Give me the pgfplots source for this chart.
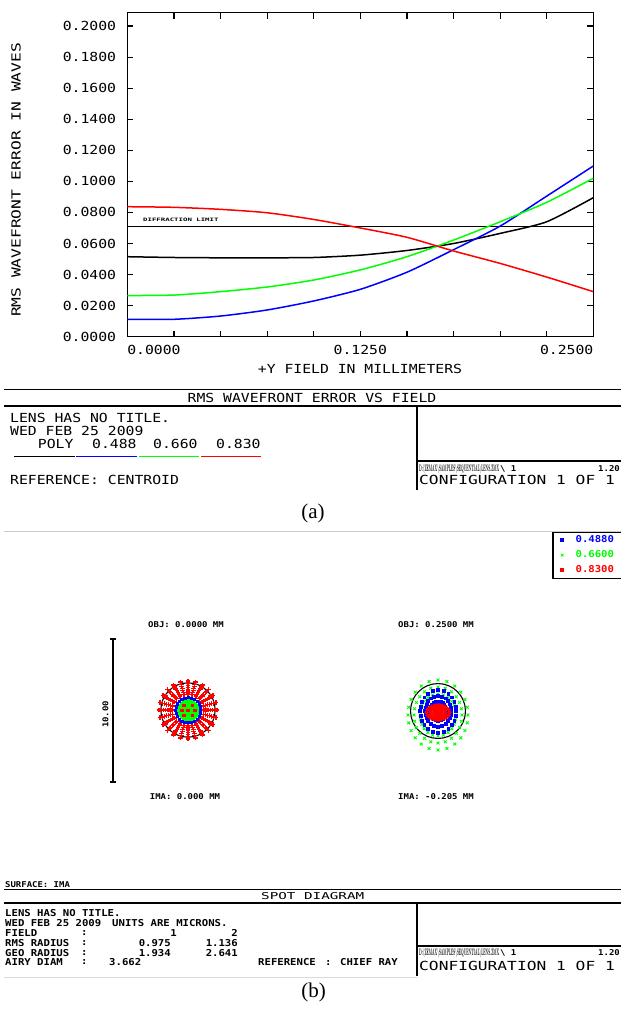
\documentclass[border=0pt]{standalone}
\usepackage{pgfplots}
\pgfplotsset{compat=1.18}
\usepackage{pgfplotstable}
\usepackage{graphicx}
\usepackage{fontspec}
\newfontfamily\zA[FakeStretch=1.18]{DejaVu Sans Mono}
\newfontfamily\zW[FakeStretch=1.3]{DejaVu Sans Mono}
\newfontfamily\zB[FakeStretch=1.12]{DejaVu Sans Mono}
\newfontfamily\zS[FakeStretch=1.5]{DejaVu Sans Mono}
\newfontfamily\zT[FakeStretch=1.6]{DejaVu Sans Mono}
\newfontfamily\capf{Liberation Serif}
\newcommand\fa{\zA\fontsize{12.5}{13}\selectfont}
\newcommand\fw{\zW\fontsize{12.5}{13}\selectfont}
\newcommand\fb{\zB\bfseries\fontsize{9.5}{10}\selectfont}
\newcommand\fo{\zB\bfseries\fontsize{8}{9}\selectfont}
\newcommand\fs{\zS\fontsize{9.5}{10}\selectfont}
\newcommand\ft{\zT\bfseries\fontsize{4.6}{5}\selectfont}
\newcommand\fc{\capf\fontsize{21}{23}\selectfont}

% RMS wavefront error vs field
\pgfplotstableread{
x     poly   b      g      r
0.000 0.0515 0.0112 0.0265 0.0837
0.025 0.0510 0.0112 0.0268 0.0833
0.050 0.0508 0.0133 0.0290 0.0820
0.075 0.0508 0.0172 0.0320 0.0798
0.100 0.0510 0.0230 0.0365 0.0755
0.125 0.0525 0.0305 0.0430 0.0700
0.150 0.0555 0.0415 0.0515 0.0640
0.175 0.0600 0.0560 0.0622 0.0552
0.200 0.0665 0.0712 0.0740 0.0472
0.225 0.0740 0.0905 0.0865 0.0384
0.250 0.0895 0.1099 0.1020 0.0290
}\rms

% spot diagram, field 1 (angle in degrees, radius in microns)
\pgfplotstableread{
a   p1   p2   p3   p4   p5   p6   p7   pb   pg1  pg2  pg3
0   2.02 1.85 1.70 1.55 1.40 1.26 1.12 0.88 0.62 0.42 0.22
15  2.02 1.85 1.70 1.55 1.40 1.26 1.12 0.88 0.62 0.42 0.22
30  2.02 1.85 1.70 1.55 1.40 1.26 1.12 0.88 0.62 0.42 0.22
45  2.02 1.85 1.70 1.55 1.40 1.26 1.12 0.88 0.62 0.42 0.22
60  2.02 1.85 1.70 1.55 1.40 1.26 1.12 0.88 0.62 0.42 0.22
75  2.02 1.85 1.70 1.55 1.40 1.26 1.12 0.88 0.62 0.42 0.22
90  2.02 1.85 1.70 1.55 1.40 1.26 1.12 0.88 0.62 0.42 0.22
105 2.02 1.85 1.70 1.55 1.40 1.26 1.12 0.88 0.62 0.42 0.22
120 2.02 1.85 1.70 1.55 1.40 1.26 1.12 0.88 0.62 0.42 0.22
135 2.02 1.85 1.70 1.55 1.40 1.26 1.12 0.88 0.62 0.42 0.22
150 2.02 1.85 1.70 1.55 1.40 1.26 1.12 0.88 0.62 0.42 0.22
165 2.02 1.85 1.70 1.55 1.40 1.26 1.12 0.88 0.62 0.42 0.22
180 2.02 1.85 1.70 1.55 1.40 1.26 1.12 0.88 0.62 0.42 0.22
195 2.02 1.85 1.70 1.55 1.40 1.26 1.12 0.88 0.62 0.42 0.22
210 2.02 1.85 1.70 1.55 1.40 1.26 1.12 0.88 0.62 0.42 0.22
225 2.02 1.85 1.70 1.55 1.40 1.26 1.12 0.88 0.62 0.42 0.22
240 2.02 1.85 1.70 1.55 1.40 1.26 1.12 0.88 0.62 0.42 0.22
255 2.02 1.85 1.70 1.55 1.40 1.26 1.12 0.88 0.62 0.42 0.22
270 2.02 1.85 1.70 1.55 1.40 1.26 1.12 0.88 0.62 0.42 0.22
285 2.02 1.85 1.70 1.55 1.40 1.26 1.12 0.88 0.62 0.42 0.22
300 2.02 1.85 1.70 1.55 1.40 1.26 1.12 0.88 0.62 0.42 0.22
315 2.02 1.85 1.70 1.55 1.40 1.26 1.12 0.88 0.62 0.42 0.22
330 2.02 1.85 1.70 1.55 1.40 1.26 1.12 0.88 0.62 0.42 0.22
345 2.02 1.85 1.70 1.55 1.40 1.26 1.12 0.88 0.62 0.42 0.22
}\spotA

% spot diagram, field 2 (angle in degrees, radius in microns)
\pgfplotstableread{
a   g1    g2    g3    b1    b2    b3    r1    r2    r3
0   2.100 1.680 1.260 1.260 0.907 0.567 0.800 0.528 0.264
15  2.119 1.695 1.271 1.273 0.916 0.573 0.761 0.502 0.251
30  2.173 1.738 1.304 1.309 0.943 0.589 0.679 0.448 0.224
45  2.255 1.804 1.353 1.364 0.982 0.614 0.600 0.396 0.198
60  2.346 1.877 1.408 1.427 1.028 0.642 0.543 0.358 0.179
75  2.421 1.937 1.453 1.480 1.065 0.666 0.511 0.337 0.168
90  2.450 1.960 1.470 1.500 1.080 0.675 0.500 0.330 0.165
105 2.421 1.937 1.453 1.480 1.065 0.666 0.511 0.337 0.168
120 2.346 1.877 1.408 1.427 1.028 0.642 0.543 0.358 0.179
135 2.255 1.804 1.353 1.364 0.982 0.614 0.600 0.396 0.198
150 2.173 1.738 1.304 1.309 0.943 0.589 0.679 0.448 0.224
165 2.119 1.695 1.271 1.273 0.916 0.573 0.761 0.502 0.251
180 2.100 1.680 1.260 1.260 0.907 0.567 0.800 0.528 0.264
195 2.119 1.695 1.271 1.273 0.916 0.573 0.761 0.502 0.251
210 2.173 1.738 1.304 1.309 0.943 0.589 0.679 0.448 0.224
225 2.255 1.804 1.353 1.364 0.982 0.614 0.600 0.396 0.198
240 2.346 1.877 1.408 1.427 1.028 0.642 0.543 0.358 0.179
255 2.421 1.937 1.453 1.480 1.065 0.666 0.511 0.337 0.168
270 2.450 1.960 1.470 1.500 1.080 0.675 0.500 0.330 0.165
285 2.421 1.937 1.453 1.480 1.065 0.666 0.511 0.337 0.168
300 2.346 1.877 1.408 1.427 1.028 0.642 0.543 0.358 0.179
315 2.255 1.804 1.353 1.364 0.982 0.614 0.600 0.396 0.198
330 2.173 1.738 1.304 1.309 0.943 0.589 0.679 0.448 0.224
345 2.119 1.695 1.271 1.273 0.916 0.573 0.761 0.502 0.251
}\spotB

\begin{document}
\begin{tikzpicture}
\useasboundingbox (0,0) rectangle (621pt,-1012pt);

% ---------- (a) RMS wavefront error vs field ----------
\begin{axis}[
  at={(127.3pt,-336.7pt)}, anchor=south west,
  scale only axis, width=466pt, height=324pt,
  xmin=0, xmax=0.25, ymin=0, ymax=0.2086,
  axis line style={line width=1.4pt},
  tick align=inside, major tick length=6pt,
  tick style={line width=1.2pt, black},
  xtick pos=both, ytick pos=both, ticklabel pos=left,
  xtick={0,0.025,0.05,0.075,0.1,0.125,0.15,0.175,0.2,0.225,0.25},
  xticklabels={\makebox[0pt][l]{0.0000},,,,,0.1250,,,,,\makebox[0pt][r]{0.2500}},
  ytick={0,0.02,0.04,0.06,0.08,0.1,0.12,0.14,0.16,0.18,0.2},
  yticklabels={0.0000,0.0200,0.0400,0.0600,0.0800,0.1000,0.1200,0.1400,0.1600,0.1800,0.2000},
  xticklabel style={font=\fa, anchor=north, inner sep=0pt, yshift=-8pt},
  yticklabel style={font=\fa, anchor=east, inner sep=0pt, xshift=-11pt},
]
\addplot[black, line width=1.3pt] coordinates {(0,0.0708) (0.25,0.0708)};
\addplot[black, line width=1.5pt, smooth, tension=0.4] table[x=x, y=poly] {\rms};
\addplot[blue, line width=1.5pt, smooth, tension=0.4] table[x=x, y=b] {\rms};
\addplot[green, line width=1.5pt, smooth, tension=0.4] table[x=x, y=g] {\rms};
\addplot[red, line width=1.5pt, smooth, tension=0.4] table[x=x, y=r] {\rms};
\end{axis}

% ---------- (b) spot diagram, field 1 ----------
\begin{axis}[
  at={(130.8pt,-767.2pt)}, anchor=south west,
  scale only axis, width=114.4pt, height=114.4pt,
  xmin=-4, xmax=4, ymin=-4, ymax=4, hide axis, clip=false]
\addplot[data cs=polar, only marks, mark=+, mark size=2.4pt, red, line width=1.3pt] table[x=a, y=p1] {\spotA};
\addplot[data cs=polar, only marks, mark=+, mark size=2.4pt, red, line width=1.3pt] table[x=a, y=p2] {\spotA};
\addplot[data cs=polar, only marks, mark=+, mark size=2.4pt, red, line width=1.3pt] table[x=a, y=p3] {\spotA};
\addplot[data cs=polar, only marks, mark=+, mark size=2.4pt, red, line width=1.3pt] table[x=a, y=p4] {\spotA};
\addplot[data cs=polar, only marks, mark=+, mark size=2.4pt, red, line width=1.3pt] table[x=a, y=p5] {\spotA};
\addplot[data cs=polar, only marks, mark=+, mark size=2.4pt, red, line width=1.3pt] table[x=a, y=p6] {\spotA};
\addplot[data cs=polar, only marks, mark=+, mark size=2.4pt, red, line width=1.3pt] table[x=a, y=p7] {\spotA};
\draw[black, line width=1.1pt] (axis cs:0,0) circle [radius=1.9];
\addplot[data cs=polar, only marks, mark=square*, mark size=1.6pt, green] table[x=a, y=pg1] {\spotA};
\addplot[data cs=polar, only marks, mark=square*, mark size=1.6pt, green] table[x=a, y=pg2] {\spotA};
\addplot[data cs=polar, only marks, mark=square*, mark size=1.6pt, green] table[x=a, y=pg3] {\spotA};
\addplot[data cs=polar, only marks, mark=square*, mark size=1.1pt, blue] table[x=a, y=pb] {\spotA};
\addplot[only marks, mark=square*, mark size=1.3pt, red] coordinates {(-0.3,0.35) (0.3,0.35) (-0.45,0) (0,0) (0.45,0) (-0.3,-0.35) (0.3,-0.35)};
\end{axis}

% ---------- (b) spot diagram, field 2 ----------
\begin{axis}[
  at={(380.8pt,-768.2pt)}, anchor=south west,
  scale only axis, width=114.4pt, height=114.4pt,
  xmin=-4, xmax=4, ymin=-4, ymax=4, hide axis, clip=false,
  legend style={at={(1.4965,2.0734)}, anchor=north west, draw=black, line width=1.6pt,
    font=\fb, inner xsep=8pt, inner ysep=2pt, row sep=2.5pt, fill=white,
    /tikz/every odd column/.append style={column sep=10pt}},
  legend cell align=left]
\addlegendimage{only marks, mark=square*, mark size=1.2pt, blue}
\addlegendentry{\makebox[70pt][l]{\textcolor{blue}{0.4880}}}
\addlegendimage{only marks, mark=x, mark size=1.8pt, green, line width=0.8pt}
\addlegendentry{\makebox[70pt][l]{\textcolor{green}{0.6600}}}
\addlegendimage{only marks, mark=square*, mark size=1.4pt, red}
\addlegendentry{\makebox[70pt][l]{\textcolor{red}{0.8300}}}
\addplot[forget plot, data cs=polar, only marks, mark=x, mark size=2pt, green, line width=0.9pt, yshift=-4pt] table[x=a, y=g1] {\spotB};
\addplot[forget plot, data cs=polar, only marks, mark=x, mark size=2pt, green, line width=0.9pt, yshift=-4pt] table[x=a, y=g2] {\spotB};
\addplot[forget plot, data cs=polar, only marks, mark=x, mark size=2pt, green, line width=0.9pt, yshift=-4pt] table[x=a, y=g3] {\spotB};
\draw[black, line width=1.1pt] (axis cs:0,0) circle [radius=1.92];
\addplot[forget plot, data cs=polar, only marks, mark=square*, mark size=1.4pt, blue] table[x=a, y=b1] {\spotB};
\addplot[forget plot, data cs=polar, only marks, mark=square*, mark size=1.4pt, blue] table[x=a, y=b2] {\spotB};
\addplot[forget plot, data cs=polar, only marks, mark=square*, mark size=1.4pt, blue] table[x=a, y=b3] {\spotB};
\addplot[forget plot, data cs=polar, only marks, mark=*, mark size=1.9pt, red, yshift=-1.5pt] table[x=a, y=r1] {\spotB};
\addplot[forget plot, data cs=polar, only marks, mark=*, mark size=1.9pt, red, yshift=-1.5pt] table[x=a, y=r2] {\spotB};
\addplot[forget plot, data cs=polar, only marks, mark=*, mark size=1.9pt, red, yshift=-1.5pt] table[x=a, y=r3] {\spotB};
\addplot[forget plot, only marks, mark=*, mark size=1.9pt, red, yshift=-1.5pt] coordinates {(0,0)};
\end{axis}

\begin{scope}[x=1pt, y=-1pt]
% labels of (a)
\node[font=\fa] at (360,369) {+Y FIELD IN MILLIMETERS};
\node[font=\fw, rotate=90] at (16,180) {RMS WAVEFRONT ERROR IN WAVES};
\node[font=\ft, anchor=west, inner sep=0pt] at (143,220) {DIFFRACTION LIMIT};
% table of (a)
\draw[line width=1.6pt] (4,389.3) -- (621,389.3);
\draw[line width=1.6pt] (4,406) -- (621,406);
\node[font=\fa] at (312,397.7) {RMS WAVEFRONT ERROR VS FIELD};
\draw[line width=1.6pt] (416.7,406) -- (416.7,490);
\draw[line width=1.6pt] (416.7,460.7) -- (621,460.7);
\node[font=\fa, anchor=west, inner sep=0pt] at (10,418) {LENS HAS NO TITLE.};
\node[font=\fa, anchor=west, inner sep=0pt] at (10,431) {WED FEB 25 2009};
\node[font=\fa, anchor=west, inner sep=0pt] at (37.7,443.5) {POLY};
\node[font=\fa, anchor=west, inner sep=0pt] at (92,443.5) {0.488};
\node[font=\fa, anchor=west, inner sep=0pt] at (153,443.5) {0.660};
\node[font=\fa, anchor=west, inner sep=0pt] at (216,443.5) {0.830};
\draw[black, line width=1.5pt] (14,456.7) -- (75,456.7);
\draw[blue, line width=1.5pt] (76,456.7) -- (137,456.7);
\draw[green, line width=1.5pt] (139,456.7) -- (199,456.7);
\draw[red, line width=1.5pt] (201,456.7) -- (261,456.7);
\node[font=\fa, anchor=west, inner sep=0pt] at (10,480) {REFERENCE: CENTROID};
\node[anchor=west, inner sep=0pt] at (419,469) {\resizebox{80pt}{7pt}{\bfseries D:\textbackslash ZEMAX\textbackslash SAMPLES\textbackslash SEQUENTIAL\textbackslash LENS.ZMX}};
\node[font=\fo, anchor=west, inner sep=0pt] at (500,469) {\textbackslash\ 1};
\node[font=\fo, anchor=east, inner sep=0pt] at (620,469) {1.20};
\node[font=\fw, anchor=west, inner sep=0pt] at (419,480) {CONFIGURATION 1 OF 1};
\node[font=\fc] at (313,513) {(a)};
\draw[gray!40, line width=0.8pt] (4,531.7) -- (621,531.7);
% labels of (b)
\node[font=\fo] at (186,625) {OBJ: 0.0000 MM};
\node[font=\fo] at (436,625) {OBJ: 0.2500 MM};
\node[font=\fo] at (185,797) {IMA: 0.000 MM};
\node[font=\fo] at (436,797) {IMA: -0.205 MM};
\draw[line width=1.3pt] (113,639) -- (113,782);
\draw[line width=1.3pt] (110,639) -- (116,639);
\draw[line width=1.3pt] (110,782) -- (116,782);
\node[font=\fo, rotate=90] at (105.5,714.5) {10.00};
% table of (b)
\node[font=\fo, anchor=west, inner sep=0pt] at (5,885) {SURFACE: IMA};
\draw[line width=1.4pt] (4,889.3) -- (621,889.3);
\draw[line width=1.4pt] (4,903) -- (621,903);
\node[font=\fs] at (312.7,896) {SPOT DIAGRAM};
\draw[line width=1.4pt] (417,903) -- (417,976);
\draw[line width=1.4pt] (417,946) -- (621,946);
\node[font=\fb, anchor=west, inner sep=0pt] at (5,913) {LENS HAS NO TITLE.};
\node[font=\fb, anchor=west, inner sep=0pt] at (5,923) {WED FEB 25 2009};
\node[font=\fb, anchor=west, inner sep=0pt] at (112,923) {UNITS ARE MICRONS.};
\node[font=\fb, anchor=west, inner sep=0pt] at (5,933) {FIELD};
\node[font=\fb, anchor=west, inner sep=0pt] at (81,933) {:};
\node[font=\fb, anchor=east, inner sep=0pt] at (177,933) {1};
\node[font=\fb, anchor=east, inner sep=0pt] at (238,933) {2};
\node[font=\fb, anchor=west, inner sep=0pt] at (5,943) {RMS RADIUS};
\node[font=\fb, anchor=west, inner sep=0pt] at (81,943) {:};
\node[font=\fb, anchor=east, inner sep=0pt] at (171,943) {0.975};
\node[font=\fb, anchor=east, inner sep=0pt] at (238,943) {1.136};
\node[font=\fb, anchor=west, inner sep=0pt] at (5,952.7) {GEO RADIUS};
\node[font=\fb, anchor=west, inner sep=0pt] at (81,952.7) {:};
\node[font=\fb, anchor=east, inner sep=0pt] at (171,952.7) {1.934};
\node[font=\fb, anchor=east, inner sep=0pt] at (238,952.7) {2.641};
\node[font=\fb, anchor=west, inner sep=0pt] at (5,962) {AIRY DIAM};
\node[font=\fb, anchor=west, inner sep=0pt] at (81,962) {:};
\node[font=\fb, anchor=west, inner sep=0pt] at (109,962) {3.662};
\node[font=\fb, anchor=west, inner sep=0pt] at (258,962) {REFERENCE};
\node[font=\fb, anchor=west, inner sep=0pt] at (325,962) {: CHIEF RAY};
\node[anchor=west, inner sep=0pt] at (419,953) {\resizebox{80pt}{7pt}{\bfseries D:\textbackslash ZEMAX\textbackslash SAMPLES\textbackslash SEQUENTIAL\textbackslash LENS.ZMX}};
\node[font=\fo, anchor=west, inner sep=0pt] at (500,953) {\textbackslash\ 1};
\node[font=\fo, anchor=east, inner sep=0pt] at (620,953) {1.20};
\node[font=\fw, anchor=west, inner sep=0pt] at (419,966) {CONFIGURATION 1 OF 1};
\draw[gray!30, line width=0.8pt] (4,977) -- (417,977);
\node[font=\fc] at (313.7,992.5) {(b)};
\end{scope}
\end{tikzpicture}
\end{document}
